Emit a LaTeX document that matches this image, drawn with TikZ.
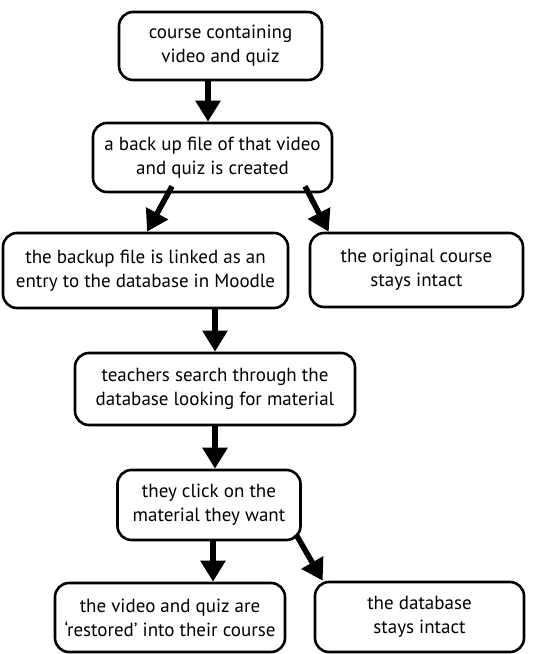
\documentclass[tikz,border=0pt]{standalone}
\usepackage{fontspec}
\setmainfont{PT Sans}
\usetikzlibrary{arrows.meta}
\begin{document}
\begin{tikzpicture}[
    x=1pt, y=-1pt,
    box/.style={draw, line width=2.6pt, rounded corners=14pt, align=center,
      font=\fontsize{19}{24}\selectfont, inner sep=0pt},
    flow/.style={line width=5.5pt, -{Triangle[width=24pt,length=21pt]}}
  ]
    \useasboundingbox (0,0) rectangle (533,654);
    % the steps
    \node[box, minimum width=203pt, minimum height=68pt] (course) at (220.5,46)
      {course containing\\video and quiz};
    \node[box, minimum width=239pt, minimum height=69pt] (backup) at (212.5,157.5)
      {a back up file of that video\\and quiz is created};
    \node[box, minimum width=285pt, minimum height=75pt] (linked) at (145.5,270.5)
      {the backup file is linked as an\\entry to the database in Moodle};
    \node[box, minimum width=213pt, minimum height=74pt] (original) at (416.5,270)
      {the original course\\stays intact};
    \node[box, minimum width=280pt, minimum height=72pt] (search) at (215,389)
      {teachers search through the\\database looking for material};
    \node[box, minimum width=183pt, minimum height=70pt] (click) at (209,505)
      {they click on the\\material they want};
    \node[box, minimum width=230pt, minimum height=69pt] (restored) at (170,617.5)
      {the video and quiz are\\`restored' into their course};
    \node[box, minimum width=209pt, minimum height=70pt] (intact) at (419.5,617)
      {the database\\stays intact};
    % arrows
    \draw[flow] ([xshift=-12.5pt]course.south) -- ([xshift=-4.5pt]backup.north);
    \draw[flow] ([xshift=-40.5pt,yshift=7pt]backup.south) -- ([xshift=1.5pt]linked.north);
    \draw[flow] ([xshift=92.5pt,yshift=7pt]backup.south) -- ([xshift=20pt]original.north west);
    \draw[flow] (linked.south -| search.north) -- (search.north);
    \draw[flow] (search.south) -- (search.south |- click.north);
    \draw[flow] ([xshift=4pt]click.south) -- ([xshift=4pt]click.south |- restored.north);
    \draw[flow] ([xshift=87pt,yshift=7pt]click.south) -- ([xshift=9pt]intact.north west);
  \end{tikzpicture}
\end{document}
